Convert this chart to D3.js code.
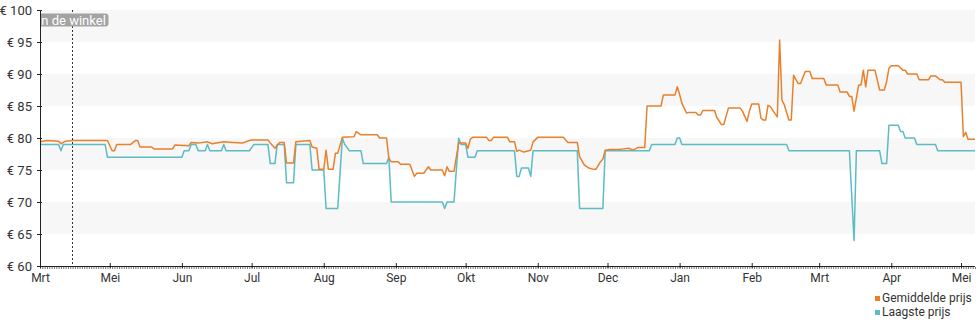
<!DOCTYPE html>
<html>
<head>
<meta charset="utf-8">
<script src="https://cdn.jsdelivr.net/npm/d3@7"></script>
<style>
  html, body { margin: 0; padding: 0; background: #fff; }
  svg { display: block; font-family: Roboto, "Noto Sans", sans-serif; }
</style>
</head>
<body>
<svg id="chart" width="980" height="325"></svg>
<script>
// Price history: average price and lowest price per day (EUR)
const avgDates = [
  "2023-04-01","2023-04-04","2023-04-09","2023-04-10","2023-04-12","2023-04-15","2023-04-30","2023-05-02","2023-05-03","2023-05-04",
  "2023-05-10","2023-05-12","2023-05-13","2023-05-14","2023-05-19","2023-05-20","2023-05-28","2023-05-29","2023-06-04","2023-06-05",
  "2023-06-08","2023-06-12","2023-06-14","2023-06-19","2023-06-23","2023-06-27","2023-06-30","2023-07-01","2023-07-08","2023-07-09",
  "2023-07-11","2023-07-13","2023-07-15","2023-07-16","2023-07-19","2023-07-20","2023-07-26","2023-07-27","2023-07-29","2023-07-30",
  "2023-08-01","2023-08-02","2023-08-03","2023-08-05","2023-08-06","2023-08-07","2023-08-09","2023-08-14","2023-08-15","2023-08-17",
  "2023-08-24","2023-08-25","2023-08-28","2023-08-29","2023-08-30","2023-09-02","2023-09-03","2023-09-07","2023-09-09","2023-09-10",
  "2023-09-13","2023-09-15","2023-09-16","2023-09-21","2023-09-22","2023-09-23","2023-09-24","2023-09-26","2023-09-28","2023-10-01",
  "2023-10-02","2023-10-03","2023-10-04","2023-10-10","2023-10-11","2023-10-12","2023-10-13","2023-10-19","2023-10-20","2023-10-22",
  "2023-10-23","2023-10-24","2023-10-26","2023-10-29","2023-10-30","2023-11-01","2023-11-12","2023-11-14","2023-11-18","2023-11-19",
  "2023-11-21","2023-11-23","2023-11-25","2023-11-26","2023-11-28","2023-11-29","2023-11-30","2023-12-02","2023-12-06","2023-12-08",
  "2023-12-10","2023-12-12","2023-12-14","2023-12-17","2023-12-18","2023-12-24","2023-12-25","2023-12-30","2023-12-31","2024-01-01",
  "2024-01-02","2024-01-04","2024-01-05","2024-01-08","2024-01-09","2024-01-10","2024-01-11","2024-01-16","2024-01-17","2024-01-19",
  "2024-01-20","2024-01-22","2024-01-27","2024-01-28","2024-01-30","2024-01-31","2024-02-01","2024-02-04","2024-02-05","2024-02-06",
  "2024-02-07","2024-02-08","2024-02-09","2024-02-11","2024-02-12","2024-02-13","2024-02-14","2024-02-15","2024-02-17","2024-02-18",
  "2024-02-19","2024-02-21","2024-02-22","2024-02-24","2024-02-26","2024-02-27","2024-03-03","2024-03-04","2024-03-09","2024-03-10",
  "2024-03-13","2024-03-14","2024-03-15","2024-03-16","2024-03-18","2024-03-19","2024-03-20","2024-03-21","2024-03-22","2024-03-25",
  "2024-03-27","2024-03-29","2024-03-30","2024-03-31","2024-04-01","2024-04-04","2024-04-06","2024-04-07","2024-04-08","2024-04-12",
  "2024-04-13","2024-04-17","2024-04-18","2024-04-20","2024-04-22","2024-04-23","2024-04-24","2024-05-01","2024-05-02","2024-05-03",
  "2024-05-04","2024-05-07"
];
const avgPrices = [
  79.4,79.6,79.5,79.1,79.5,79.6,79.6,78.0,78.0,79.0,
  79.0,79.6,79.6,78.6,78.6,78.3,78.3,78.9,78.8,79.3,
  79.2,79.4,79.1,79.4,79.3,79.2,79.6,79.7,79.7,79.2,
  78.4,79.3,79.3,76.1,76.1,79.4,79.6,78.6,78.4,75.1,
  75.1,78.1,75.1,75.1,77.6,77.6,80.1,80.2,81.0,80.5,
  80.5,80.0,80.0,76.8,76.3,76.3,75.9,75.9,74.0,74.5,
  74.5,75.5,75.0,75.0,74.1,75.5,74.8,74.8,79.2,79.2,
  78.4,79.8,80.1,80.1,79.6,79.6,80.1,80.1,79.4,79.4,
  77.9,78.1,77.8,78.1,79.4,80.1,80.1,79.3,79.3,77.1,
  75.8,75.3,75.1,75.1,76.3,76.7,78.1,78.2,78.2,78.3,
  78.4,78.1,78.5,78.5,85.0,85.0,86.7,86.7,88.0,86.8,
  85.4,83.9,84.0,84.0,83.6,83.6,84.3,84.3,83.2,82.1,
  82.1,84.7,84.7,84.2,82.6,84.2,85.3,85.3,83.1,82.8,
  82.8,85.1,84.9,83.8,83.3,95.3,85.9,85.2,82.8,82.8,
  89.8,88.5,88.5,90.4,90.4,89.3,89.3,88.3,88.3,87.2,
  87.2,86.5,86.5,84.2,88.3,88.3,90.6,88.0,90.6,90.6,
  87.5,87.5,88.8,90.9,91.3,91.3,90.6,90.6,90.0,90.0,
  89.1,89.1,89.7,89.7,89.1,89.1,88.7,88.7,80.2,80.9,
  79.8,79.8
];

const lowDates = [
  "2023-04-01","2023-04-09","2023-04-10","2023-04-11","2023-04-29","2023-04-30","2023-06-01","2023-06-02","2023-06-04","2023-06-05",
  "2023-06-07","2023-06-08","2023-06-11","2023-06-12","2023-06-13","2023-06-18","2023-06-19","2023-06-20","2023-06-30","2023-07-02",
  "2023-07-08","2023-07-09","2023-07-11","2023-07-12","2023-07-15","2023-07-16","2023-07-19","2023-07-20","2023-07-26","2023-07-27",
  "2023-08-01","2023-08-02","2023-08-07","2023-08-09","2023-08-10","2023-08-12","2023-08-17","2023-08-18","2023-08-28","2023-08-29",
  "2023-08-30","2023-09-21","2023-09-22","2023-09-23","2023-09-26","2023-09-28","2023-09-29","2023-10-01","2023-10-02","2023-10-05",
  "2023-10-06","2023-10-22","2023-10-23","2023-10-24","2023-10-25","2023-10-28","2023-10-29","2023-10-30","2023-11-18","2023-11-19",
  "2023-11-29","2023-11-30","2023-12-19","2023-12-20","2023-12-30","2023-12-31","2024-01-01","2024-01-02","2024-02-16","2024-02-17",
  "2024-03-14","2024-03-16","2024-03-17","2024-03-27","2024-03-28","2024-03-30","2024-03-31","2024-04-04","2024-04-05","2024-04-06",
  "2024-04-07","2024-04-11","2024-04-12","2024-04-20","2024-04-21","2024-05-07"
];
const lowPrices = [
  79,79,78,79,79,77,77,78,78,79,
  79,78,78,79,78,78,79,78,78,79,
  79,76,76,79,79,73,73,79,79,75,
  75,69,69,80,79,78,78,76,76,77,
  70,70,69,70,70,80,79,79,77,77,
  78,78,74,74,75.3,75.3,74,78,78,69,
  69,78,78,79,79,80,80,79,79,78,
  78,64,78,78,76,76,82,82,81,81,
  80,80,79,79,78,78
];

const seriesNames = ["Gemiddelde prijs", "Laagste prijs"];
const seriesColors = ["#e8802c", "#5cbbc4"];

const yTicks = [60, 65, 70, 75, 80, 85, 90, 95, 100];
const bandRanges = [[95, 100], [85, 90], [75, 80], [65, 70]];

const monthTickDates = [
  "2023-04-01","2023-05-01","2023-06-01","2023-07-01","2023-08-01","2023-09-01","2023-10-01",
  "2023-11-01","2023-12-01","2024-01-01","2024-02-01","2024-03-01","2024-04-01","2024-05-01"
];
const monthLabels = ["Mrt","Mei","Jun","Jul","Aug","Sep","Okt","Nov","Dec","Jan","Feb","Mrt","Apr","Mei"];

const markerDate = "2023-04-15";
const markerLabel = "in de winkel";

// ---- drawing ----
(function draw() {
  const parse = d3.timeParse("%Y-%m-%d");
  const plotLeft = 40, plotRight = 975, plotTop = 10, plotBottom = 266;

  const x = d3.scaleTime()
    .domain([parse("2023-04-01"), parse("2024-05-07")])
    .range([plotLeft, plotRight]);
  const y = d3.scaleLinear().domain([60, 100]).range([plotBottom, plotTop]);

  const svg = d3.select("#chart");

  svg.append("defs").append("clipPath").attr("id", "plotClip")
    .append("rect").attr("x", plotLeft + 0.5).attr("y", 0)
    .attr("width", plotRight - plotLeft).attr("height", plotBottom);

  // alternating background bands
  svg.append("g").selectAll("rect").data(bandRanges).join("rect")
    .attr("x", plotLeft).attr("width", plotRight - plotLeft)
    .attr("y", d => y(d[1])).attr("height", d => y(d[0]) - y(d[1]))
    .attr("fill", "#f7f7f7");

  // series lines
  const avgData = avgDates.map((d, i) => ({ date: parse(d), value: avgPrices[i] }));
  const lowData = lowDates.map((d, i) => ({ date: parse(d), value: lowPrices[i] }));

  const line = d3.line().x(d => x(d.date)).y(d => y(d.value));

  const lines = svg.append("g").attr("clip-path", "url(#plotClip)");
  lines.append("path").datum(lowData)
    .attr("d", line).attr("fill", "none")
    .attr("stroke", seriesColors[1]).attr("stroke-width", 1.5)
    .attr("stroke-linejoin", "round");
  lines.append("path").datum(avgData)
    .attr("d", line).attr("fill", "none")
    .attr("stroke", seriesColors[0]).attr("stroke-width", 1.5)
    .attr("stroke-linejoin", "round");

  // marker line with label
  const mx = Math.floor(x(parse(markerDate))) + 0.5;
  const marker = svg.append("g").attr("clip-path", "url(#plotClip)");
  marker.append("line")
    .attr("x1", mx).attr("x2", mx).attr("y1", plotTop).attr("y2", plotBottom)
    .attr("stroke", "#333").attr("stroke-width", 1).attr("stroke-dasharray", "2,2");
  marker.append("rect")
    .attr("x", mx - 37).attr("y", 13.5).attr("width", 73).attr("height", 13)
    .attr("rx", 3).attr("fill", "#a3a3a3");
  marker.append("text")
    .attr("x", mx - 0.5).attr("y", 24.5).attr("text-anchor", "middle")
    .attr("fill", "#fff").attr("font-size", 13).text(markerLabel);

  // y axis
  const yAxis = svg.append("g").attr("transform", `translate(${plotLeft},0)`)
    .call(d3.axisLeft(y).tickValues(yTicks).tickFormat(d => "€ " + d).tickSize(3).tickPadding(5));
  yAxis.selectAll(".tick line").attr("x1", -3).attr("x2", 2);
  yAxis.select(".domain").attr("d", `M0.5,${plotTop}V${plotBottom}`);
  yAxis.selectAll(".tick text").attr("font-size", 13);

  // x axis: daily minor ticks, monthly major ticks
  svg.append("g").attr("transform", `translate(0,${plotBottom + 1})`)
    .call(d3.axisBottom(x).ticks(d3.timeDay.every(1)).tickSize(2).tickFormat(""))
    .call(g => g.select(".domain").remove())
    .call(g => g.selectAll(".tick line").attr("stroke", "#777"));

  const xAxis = svg.append("g").attr("transform", `translate(0,${plotBottom})`)
    .call(d3.axisBottom(x).tickValues(monthTickDates.map(parse))
      .tickFormat((d, i) => monthLabels[i]).tickSize(3).tickPadding(4));
  xAxis.selectAll(".tick line").attr("y1", -3).attr("y2", 2);
  xAxis.select(".domain").attr("d", `M${plotLeft},0.5H${plotRight}`);
  xAxis.selectAll(".tick text").attr("font-size", 12);

  svg.selectAll(".tick text").attr("fill", "#333")
    .attr("font-family", "Roboto, sans-serif");
  yAxis.selectAll(".domain, .tick line").attr("stroke", "#222");
  xAxis.selectAll(".domain, .tick line").attr("stroke", "#222");

  // legend
  const legend = svg.append("g").attr("transform", "translate(875,298)");
  seriesNames.forEach((name, i) => {
    const row = legend.append("g").attr("transform", `translate(0,${i * 14})`);
    row.append("rect").attr("x", 0).attr("y", -2).attr("width", 5).attr("height", 5)
      .attr("fill", seriesColors[i]);
    row.append("text").attr("x", 7).attr("y", 4).attr("font-size", 12)
      .attr("fill", "#333").text(name);
  });
})();
</script>
</body>
</html>
